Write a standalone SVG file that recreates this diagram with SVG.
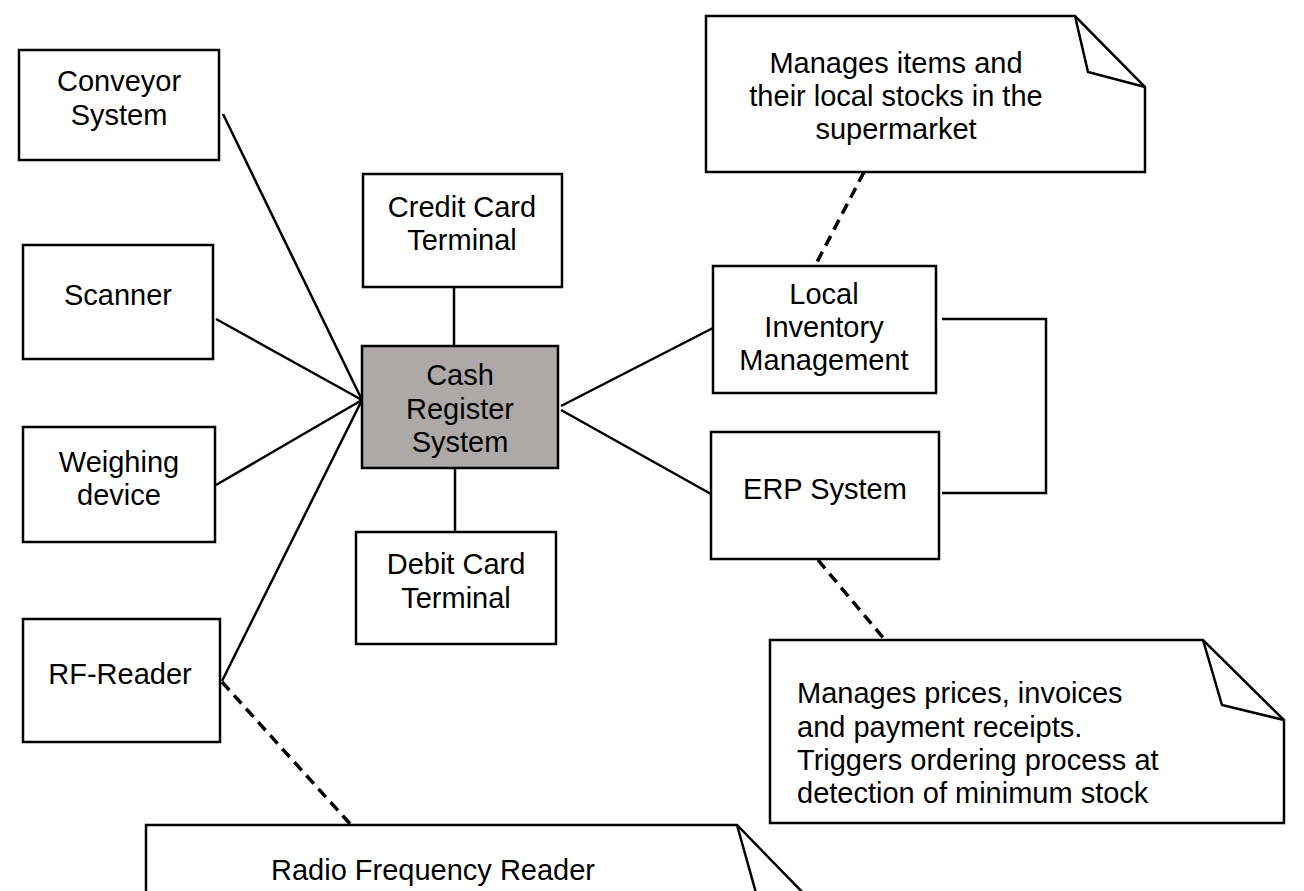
<svg xmlns="http://www.w3.org/2000/svg" width="1304" height="891" viewBox="0 0 1304 891">
<style>
.box{fill:#fff;stroke:#000;stroke-width:2.5}
.main{fill:#ada9a8;stroke:#000;stroke-width:2.5}
.ln{fill:none;stroke:#000;stroke-width:2.5}
.dash{fill:none;stroke:#000;stroke-width:3.5;stroke-dasharray:11,7}
text{font-family:"Liberation Sans",Arial,sans-serif;font-size:29px;fill:#000}
.c{text-anchor:middle}
</style>
<rect width="1304" height="891" fill="#fff"/>
<g id="connectors">
<line class="ln" x1="223" y1="114" x2="362" y2="400"/>
<line class="ln" x1="216" y1="319" x2="362" y2="400"/>
<line class="ln" x1="216" y1="485" x2="362" y2="400"/>
<line class="ln" x1="222" y1="681" x2="362" y2="400"/>
<line class="ln" x1="454" y1="287" x2="454" y2="346"/>
<line class="ln" x1="455" y1="468" x2="455" y2="532"/>
<line class="ln" x1="561" y1="406" x2="713" y2="328"/>
<line class="ln" x1="561" y1="410" x2="711" y2="494"/>
<polyline class="ln" points="942,319 1046,319 1046,493 942,493"/>
<line class="dash" x1="864" y1="172" x2="815" y2="266"/>
<line class="dash" x1="818" y1="560" x2="885" y2="640"/>
<line class="dash" x1="222" y1="682" x2="352" y2="826"/>
</g>
<g id="conveyor"><rect class="box" x="19" y="50" width="200" height="110"/><text class="c" x="119" y="91">Conveyor</text><text class="c" x="119" y="125">System</text></g>
<g id="scanner"><rect class="box" x="23" y="245" width="190" height="114"/><text class="c" x="118" y="305">Scanner</text></g>
<g id="weighing"><rect class="box" x="23" y="427" width="192" height="115"/><text class="c" x="119" y="472">Weighing</text><text class="c" x="119" y="505">device</text></g>
<g id="rfreader"><rect class="box" x="23" y="619" width="197" height="123"/><text class="c" x="120" y="684">RF-Reader</text></g>
<g id="credit"><rect class="box" x="363" y="174" width="199" height="113"/><text class="c" x="462" y="217">Credit Card</text><text class="c" x="462" y="250">Terminal</text></g>
<g id="cash"><rect class="main" x="362" y="346" width="196" height="122"/><text class="c" x="460" y="385">Cash</text><text class="c" x="460" y="419">Register</text><text class="c" x="460" y="452">System</text></g>
<g id="debit"><rect class="box" x="356" y="532" width="200" height="112"/><text class="c" x="456" y="574">Debit Card</text><text class="c" x="456" y="608">Terminal</text></g>
<g id="local"><rect class="box" x="713" y="266" width="223" height="127"/><text class="c" x="824" y="304">Local</text><text class="c" x="824" y="337">Inventory</text><text class="c" x="824" y="370">Management</text></g>
<g id="erp"><rect class="box" x="711" y="432" width="228" height="127"/><text class="c" x="825" y="499">ERP System</text></g>
<g id="note-local"><path class="box" d="M706,16 L1075,16 L1145,87 L1145,172 L706,172 Z"/><path class="ln" d="M1075,16 L1088,72 L1145,87"/><text class="c" x="896" y="73">Manages items and</text><text class="c" x="896" y="106">their local stocks in the</text><text class="c" x="896" y="139">supermarket</text></g>
<g id="note-erp"><path class="box" d="M770,640 L1203,640 L1284,720 L1284,823 L770,823 Z"/><path class="ln" d="M1203,640 L1222,705 L1284,720"/><text x="797" y="703">Manages prices, invoices</text><text x="797" y="737">and payment receipts.</text><text x="797" y="770">Triggers ordering process at</text><text x="797" y="803">detection of minimum stock</text></g>
<g id="note-rf"><path class="box" d="M146,900 L146,825 L737,825 L810,900"/><path class="ln" d="M737,825 L758,900"/><text class="c" x="433" y="880">Radio Frequency Reader</text></g>
</svg>
